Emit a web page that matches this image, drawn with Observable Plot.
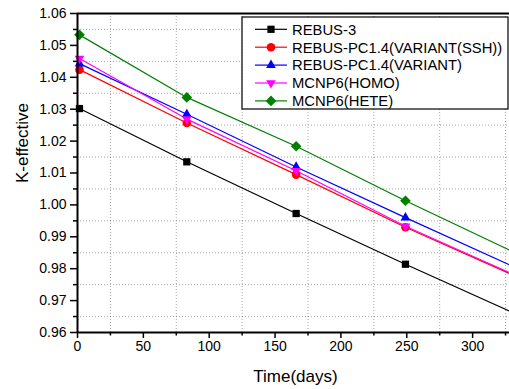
<!DOCTYPE html>
<html>
<head>
<meta charset="utf-8">
<script src="https://cdn.jsdelivr.net/npm/d3@7"></script>
<script src="https://cdn.jsdelivr.net/npm/@observablehq/plot@0.6"></script>
<style>
  html, body { margin: 0; padding: 0; background: #fff; }
  #chart { position: relative; width: 509px; height: 389px; }
</style>
</head>
<body>
<div id="chart"></div>
<script>
// ---- data ----
const days = [1.5, 83, 166, 249];
const endDay = 328;

const seriesNames = ["REBUS-3", "REBUS-PC1.4(VARIANT(SSH))", "REBUS-PC1.4(VARIANT)", "MCNP6(HOMO)", "MCNP6(HETE)"];
const rebus3  = [1.0302, 1.0135, 0.9973, 0.9814];
const ssh     = [1.0424, 1.0257, 1.0095, 0.9930];
const variant = [1.0443, 1.0284, 1.0119, 0.9960];
const homo    = [1.0459, 1.0269, 1.0107, 0.9933];
const hete    = [1.0533, 1.0337, 1.0184, 1.0013];
// where each line leaves the frame at endDay
const lineEnds = [0.9667, 0.9785, 0.9812, 0.9788, 0.9858];

const xMajor = [0, 50, 100, 150, 200, 250, 300];
const xMinor = [25, 75, 125, 175, 225, 275, 325];
const yMajor = [0.96, 0.97, 0.98, 0.99, 1.00, 1.01, 1.02, 1.03, 1.04, 1.05, 1.06];
const yMinor = [0.965, 0.975, 0.985, 0.995, 1.005, 1.015, 1.025, 1.035, 1.045, 1.055];

// ---- styles ----
const colors  = ["#000000", "#ff0000", "#0000ff", "#ff00ff", "#008000"];
const symbols = ["square", "circle", "triangle", "triangle", "diamond2"];
const rotates = [0, 0, 0, 180, 0];
const radii   = [4.1, 4.3, 3.6, 3.6, 4.8];

const values = [rebus3, ssh, variant, homo, hete];
const table = [];
const lineTable = [];
values.forEach((vals, s) => {
  vals.forEach((v, i) => {
    table.push({series: seriesNames[s], s, day: days[i], k: v});
    lineTable.push({series: seriesNames[s], s, day: days[i], k: v});
  });
  lineTable.push({series: seriesNames[s], s, day: endDay, k: lineEnds[s]});
});

const marks = [
  Plot.gridX(xMinor, {stroke: "#000", strokeOpacity: 0.35, strokeWidth: 1, strokeDasharray: "1,2"}),
  Plot.gridY(yMinor, {stroke: "#000", strokeOpacity: 0.35, strokeWidth: 1, strokeDasharray: "1,2"})
];
seriesNames.forEach((name, s) => {
  marks.push(Plot.line(lineTable.filter(d => d.s === s), {x: "day", y: "k", stroke: colors[s], strokeWidth: 1.2}));
});
seriesNames.forEach((name, s) => {
  marks.push(Plot.dot(table.filter(d => d.s === s), {x: "day", y: "k", symbol: symbols[s], r: radii[s], fill: colors[s], stroke: "none", rotate: rotates[s]}));
});
marks.push(
  Plot.axisX(xMajor, {anchor: "bottom", tickSize: 6, tickPadding: 3, fontSize: 14, strokeWidth: 1.5, label: null}),
  Plot.axisX(xMinor, {anchor: "bottom", tickSize: 3.5, strokeWidth: 1.5, tickFormat: () => "", label: null}),
  Plot.axisY(yMajor, {anchor: "left", tickSize: 7, tickPadding: 4, fontSize: 14, strokeWidth: 1.5, tickFormat: d => d.toFixed(2), label: null}),
  Plot.axisY(yMinor, {anchor: "left", tickSize: 4, strokeWidth: 1.5, tickFormat: () => "", label: null}),
  Plot.ruleX([0], {stroke: "#000", strokeWidth: 2}),
  Plot.ruleY([0.96], {stroke: "#000", strokeWidth: 2}),
  Plot.ruleY([1.06], {stroke: "#000", strokeWidth: 2}),
  Plot.text(["Time(days)"], {frameAnchor: "bottom", dy: 49, dx: 2, fontSize: 17, fill: "#000"}),
  Plot.text(["K-effective"], {frameAnchor: "left", dx: -55, dy: 10, rotate: -90, fontSize: 17, fill: "#000"})
);

const chart = Plot.plot({
  width: 509,
  height: 389,
  marginLeft: 77,
  marginRight: 0,
  marginTop: 13,
  marginBottom: 57,
  x: {domain: [0, endDay]},
  y: {domain: [0.96, 1.06]},
  style: {fontFamily: "'Liberation Sans', Arial, sans-serif", fontSize: "14px", background: "#fff", color: "#000", overflow: "visible"},
  marks
});
document.getElementById("chart").appendChild(chart);

// ---- legend (inside plot, top right) ----
const svg = d3.select(chart);
const lg = svg.append("g").attr("transform", "translate(242,17)").attr("text-anchor", "start");
lg.append("rect").attr("width", 266).attr("height", 92)
  .attr("fill", "#fff").attr("stroke", "#000").attr("stroke-width", 1.2);
const symMap = {square: d3.symbolSquare, circle: d3.symbolCircle, triangle: d3.symbolTriangle, diamond2: d3.symbolDiamond2};
seriesNames.forEach((name, s) => {
  const y = 12.3 + s * 17.9;
  const row = lg.append("g").attr("transform", `translate(0,${y})`);
  row.append("line").attr("x1", 13).attr("x2", 45).attr("y1", 0).attr("y2", 0)
    .attr("stroke", colors[s]).attr("stroke-width", 1.2);
  row.append("path")
    .attr("d", d3.symbol(symMap[symbols[s]], Math.PI * radii[s] * radii[s])())
    .attr("transform", `translate(29,0) rotate(${rotates[s]})`)
    .attr("fill", colors[s]);
  row.append("text").attr("x", 50).attr("y", 0).attr("dy", "0.36em")
    .attr("text-anchor", "start")
    .attr("font-size", 14.8).attr("fill", "#000")
    .attr("font-family", "'Liberation Sans', Arial, sans-serif")
    .text(name);
});
</script>
</body>
</html>
